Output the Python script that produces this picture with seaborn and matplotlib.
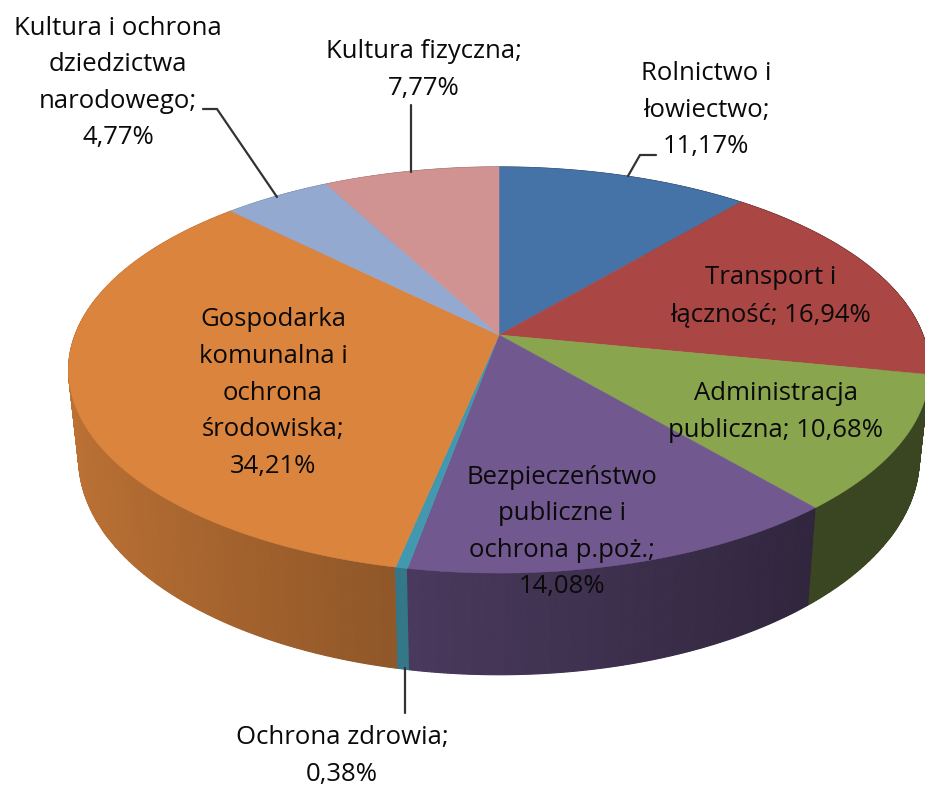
import numpy as np
import matplotlib
matplotlib.use("Agg")
import matplotlib.pyplot as plt
import seaborn as sns

categories = [
    "Rolnictwo i\nłowiectwo",
    "Transport i\nłączność",
    "Administracja\npubliczna",
    "Bezpieczeństwo\npubliczne i\nochrona p.poż.",
    "Ochrona zdrowia",
    "Gospodarka\nkomunalna i\nochrona\nśrodowiska",
    "Kultura i ochrona\ndziedzictwa\nnarodowego",
    "Kultura fizyczna",
]
shares = [11.17, 16.94, 10.68, 14.08, 0.38, 34.21, 4.77, 7.77]
# separator between name and value in each label
separators = [";\n", "; ", "; ", ";\n", ";\n", ";\n", ";\n", ";\n"]
colors = ["#4572a7", "#aa4643", "#89a54e", "#71588f",
          "#4198af", "#db843d", "#93a9cf", "#d19392"]
wall_gain = [1, 1, 1, 1, 1.2, 1, 1, 1]
label_pos = [(706, 110), (771, 296), (776, 412), (562, 532),
             (342, 756), (273, 393), (118, 83), (424, 70)]

# perspective of the pie, in pixels
CX, CY = 499, 335
A, B = 424, 197
A2, B2, CY2 = 414, 210, 421
K = 0.1724

sns.set_theme(style="white")
plt.rcParams["font.family"] = ["Open Sans", "DejaVu Sans"]


def project(theta, a, b, cy):
    w = 1 + K * np.cos(theta)
    return CX + a * np.sin(theta) / w, cy - b * np.cos(theta) / w


def wall_factor(theta):
    return max(0.60 - 0.27 * np.sin(theta), 0.42)


palette = sns.color_palette(colors)
edges = np.deg2rad(np.concatenate([[0], np.cumsum(shares)]) * 3.6)

fig = plt.figure(figsize=(9.25, 7.87), dpi=100)
ax = fig.add_axes([0, 0, 1, 1])
ax.set_xlim(0, 925)
ax.set_ylim(787, 0)
ax.axis("off")

# side wall, thin strips back to front
strips = []
for i, col in enumerate(palette):
    t = np.linspace(edges[i], edges[i + 1], max(3, int(shares[i] * 10)))
    for t0, t1 in zip(t[:-1], t[1:]):
        strips.append((t0, t1, col, wall_gain[i]))
strips.sort(key=lambda s: -np.cos(s[0]))
for t0, t1, col, gain in strips:
    x0, y0 = project(t0, A, B, CY)
    x1, y1 = project(t1, A, B, CY)
    x2, y2 = project(t1, A2, B2, CY2)
    x3, y3 = project(t0, A2, B2, CY2)
    f = wall_factor((t0 + t1) / 2) * gain
    shade = tuple(c * f for c in col)
    ax.fill([x0, x1, x2, x3], [y0, y1, y2, y3], color=shade, lw=0.8, zorder=1)

# top face
for i, col in enumerate(palette):
    t = np.linspace(edges[i], edges[i + 1], 80)
    x, y = project(t, A, B, CY)
    ax.fill(np.r_[CX, x], np.r_[CY, y], color=col, lw=0.4, zorder=2)

# leader lines
leaders = [
    ([628, 640, 656], [176, 155, 155]),
    ([411, 411], [105, 172]),
    ([203, 217, 277], [109, 109, 197]),
    ([405, 405], [668, 713]),
]
for lx, ly in leaders:
    ax.plot(lx, ly, color="#333333", lw=1.6, zorder=3, solid_joinstyle="miter")

for name, share, sep, (lx, ly) in zip(categories, shares, separators, label_pos):
    text = name + sep + f"{share:.2f}".replace(".", ",") + "%"
    ax.text(lx, ly, text, ha="center", va="center", fontsize=18.5,
            linespacing=1.61, color="#0a0a0a", zorder=4)

fig.savefig("out.png", dpi=100)
